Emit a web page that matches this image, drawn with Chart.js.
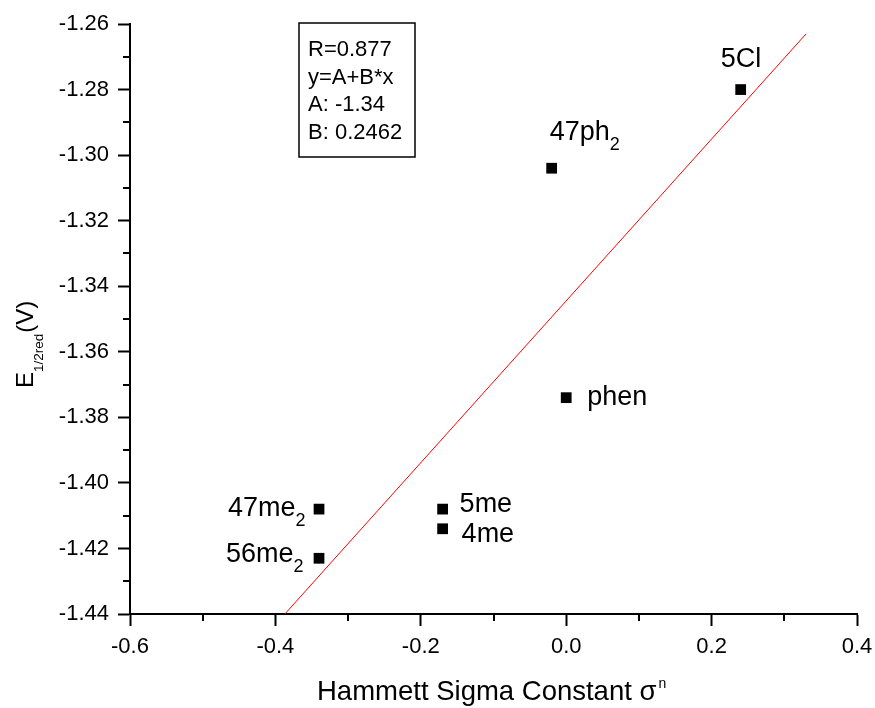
<!DOCTYPE html>
<html>
<head>
<meta charset="utf-8">
<script src="https://cdn.jsdelivr.net/npm/chart.js@4.4.1/dist/chart.umd.min.js"></script>
<style>
  html, body { margin: 0; padding: 0; background: #fff; }
  canvas { display: block; }
</style>
</head>
<body>
<canvas id="hammett" width="875" height="708"></canvas>
<script>
// compound labels, with optional subscript part
const names = ['5Cl', '47ph', 'phen', '5me', '4me', '47me', '56me'];
const subs = ['', '2', '', '', '', '2', '2'];
const sigma = [0.24, -0.02, 0.00, -0.17, -0.17, -0.34, -0.34];
const e12 = [-1.280, -1.304, -1.374, -1.408, -1.414, -1.408, -1.423];

// linear fit line, end points
const fitX = [-0.387, 0.330];
const fitY = [-1.440, -1.263];

const statLines = ['R=0.877', 'y=A+B*x', 'A: -1.34', 'B: 0.2462'];

const xMajor = [-0.6, -0.4, -0.2, 0.0, 0.2, 0.4];
const xMinor = [-0.5, -0.3, -0.1, 0.1, 0.3];
const yMajor = [-1.26, -1.28, -1.30, -1.32, -1.34, -1.36, -1.38, -1.40, -1.42, -1.44];
const yMinor = [-1.27, -1.29, -1.31, -1.33, -1.35, -1.37, -1.39, -1.41, -1.43];

const FONT = '"Liberation Sans", Arial, Helvetica, sans-serif';

// offsets of each label (text left / baseline) from its point, px
const labelOffsets = [[-20, -23], [-2, -28], [21, 7], [17, 3], [19, 13], [-91, 7], [-93, 4]];

function font(size) { return size + 'px ' + FONT; }

function drawSubText(ctx, x, y, main, sub, size, subSize, subDy) {
  ctx.font = font(size);
  ctx.fillText(main, x, y);
  if (sub) {
    const w = ctx.measureText(main).width;
    ctx.font = font(subSize);
    ctx.fillText(sub, x + w, y + subDy);
  }
}

const extras = {
  id: 'extras',
  afterDraw(chart) {
    const ctx = chart.ctx;
    const xs = chart.scales.x, ys = chart.scales.y;
    const area = chart.chartArea;
    ctx.save();
    ctx.fillStyle = '#000';
    ctx.strokeStyle = '#000';
    ctx.textBaseline = 'alphabetic';
    ctx.textAlign = 'left';

    // minor ticks
    ctx.lineWidth = 2;
    ctx.beginPath();
    xMinor.forEach(v => {
      const px = Math.round(xs.getPixelForValue(v));
      ctx.moveTo(px, area.bottom);
      ctx.lineTo(px, area.bottom + 7);
    });
    yMinor.forEach(v => {
      const py = Math.round(ys.getPixelForValue(v));
      ctx.moveTo(area.left - 7, py);
      ctx.lineTo(area.left, py);
    });
    ctx.stroke();

    // point labels
    names.forEach((n, i) => {
      const px = xs.getPixelForValue(sigma[i]);
      const py = ys.getPixelForValue(e12[i]);
      const o = labelOffsets[i];
      drawSubText(ctx, px + o[0], py + o[1], n, subs[i], 27, 18, 10);
    });

    // stats box
    const bx = area.left + 169, by = area.top - 1;
    ctx.lineWidth = 1.5;
    ctx.strokeRect(bx, by, 116, 134);
    ctx.font = font(22);
    statLines.forEach((t, i) => {
      ctx.fillText(t, bx + 9, by + 33 + i * 27.7);
    });

    // x title
    const xt = 'Hammett Sigma Constant \u03c3';
    ctx.font = font(27.5);
    ctx.fillText(xt, 317, 700);
    const tw = ctx.measureText(xt).width;
    ctx.font = font(14);
    ctx.fillText('n', 317 + tw + 2, 688);

    // y title
    ctx.translate(33, 388);
    ctx.rotate(-Math.PI / 2);
    ctx.font = font(24);
    ctx.fillText('E', 0, 0);
    let w = ctx.measureText('E').width;
    ctx.font = font(13.5);
    ctx.fillText('1/2red', w, 10);
    w += ctx.measureText('1/2red').width;
    ctx.font = font(24);
    ctx.fillText('(V)', w + 1, 0);

    ctx.restore();
  }
};

const points = sigma.map((x, i) => ({ x, y: e12[i] }));
const fitPoints = fitX.map((x, i) => ({ x, y: fitY[i] }));

new Chart(document.getElementById('hammett'), {
  type: 'scatter',
  data: {
    datasets: [
      {
        type: 'line',
        data: fitPoints,
        borderColor: '#ff0000',
        borderWidth: 1,
        pointRadius: 0,
        fill: false
      },
      {
        data: points,
        pointStyle: 'rect',
        pointRadius: 7.6,
        borderWidth: 0,
        backgroundColor: '#000',
        borderColor: '#000'
      }
    ]
  },
  options: {
    responsive: false,
    animation: false,
    layout: { padding: { left: 0, top: 24, right: 18, bottom: 0 } },
    plugins: { legend: { display: false }, tooltip: { enabled: false } },
    scales: {
      x: {
        type: 'linear',
        min: -0.6,
        max: 0.4,
        afterFit(s) { s.height = 94; s.paddingLeft = 0; s.paddingRight = 0; },
        afterBuildTicks(s) { s.ticks = xMajor.map(v => ({ value: v })); },
        ticks: {
          font: { family: FONT, size: 22 },
          color: '#000',
          padding: 8,
          maxRotation: 0,
          callback: v => Number(v).toFixed(1)
        },
        grid: { drawOnChartArea: false, drawTicks: true, tickLength: 12, tickWidth: 2, tickColor: '#000' },
        border: { display: true, color: '#000', width: 2 }
      },
      y: {
        type: 'linear',
        min: -1.44,
        max: -1.26,
        afterFit(s) { s.width = 130; s.paddingTop = 0; s.paddingBottom = 0; },
        afterBuildTicks(s) { s.ticks = yMajor.map(v => ({ value: v })); },
        ticks: {
          font: { family: FONT, size: 22 },
          color: '#000',
          padding: 9,
          callback: v => Number(v).toFixed(2)
        },
        grid: { drawOnChartArea: false, drawTicks: true, tickLength: 12, tickWidth: 2, tickColor: '#000' },
        border: { display: true, color: '#000', width: 2 }
      }
    }
  },
  plugins: [extras]
});
</script>
</body>
</html>
